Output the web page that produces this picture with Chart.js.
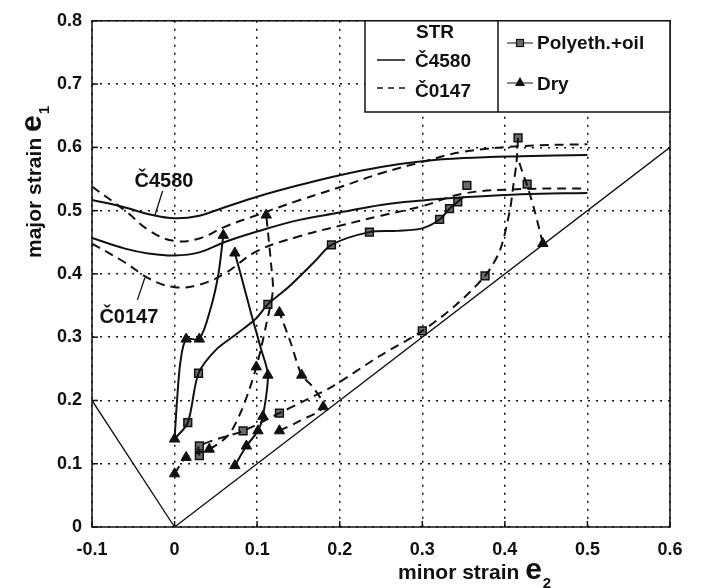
<!DOCTYPE html>
<html>
<head>
<meta charset="utf-8">
<script src="https://cdn.jsdelivr.net/npm/chart.js@4.4.0/dist/chart.umd.min.js"></script>
<style>
  html, body { margin: 0; padding: 0; background: #fff; }
  #chart { display: block; }
</style>
</head>
<body>
<canvas id="chart" width="701" height="588"></canvas>
<script>
// STR forming limit curves, minor strain e2 -> major strain e1
const limitX = [-0.1, -0.06, -0.03, 0, 0.03, 0.06, 0.1, 0.15, 0.2, 0.25, 0.3, 0.35, 0.42, 0.5];
const c4580UpperY = [0.517, 0.505, 0.494, 0.488, 0.492, 0.505, 0.522, 0.54, 0.556, 0.569, 0.578, 0.583, 0.586, 0.588];
const c4580LowerY = [0.457, 0.44, 0.432, 0.429, 0.434, 0.45, 0.467, 0.485, 0.497, 0.509, 0.516, 0.521, 0.526, 0.528];
const c0147UpperY = [0.538, 0.5, 0.468, 0.452, 0.456, 0.474, 0.493, 0.516, 0.537, 0.559, 0.577, 0.593, 0.602, 0.605];
const c0147LowerY = [0.448, 0.418, 0.392, 0.379, 0.383, 0.4, 0.436, 0.459, 0.476, 0.492, 0.507, 0.527, 0.534, 0.535];

// strain paths - Polyeth.+oil (squares)
const polyC4580X = [0, 0.016, 0.029, 0.05, 0.075, 0.099, 0.113, 0.137, 0.17, 0.19, 0.236, 0.27, 0.3, 0.321, 0.333, 0.343, 0.35];
const polyC4580Y = [0.139, 0.165, 0.243, 0.28, 0.305, 0.33, 0.352, 0.378, 0.42, 0.446, 0.466, 0.468, 0.472, 0.486, 0.503, 0.514, 0.522];
const polyC4580MarkX = [0.016, 0.029, 0.113, 0.19, 0.236, 0.321, 0.333, 0.343, 0.354];
const polyC4580MarkY = [0.165, 0.243, 0.352, 0.446, 0.466, 0.486, 0.503, 0.514, 0.54];

const polyC0147X = [0.03, 0.03, 0.083, 0.127, 0.155, 0.191, 0.248, 0.3, 0.34, 0.376, 0.394, 0.406, 0.41, 0.414, 0.416];
const polyC0147Y = [0.113, 0.128, 0.152, 0.18, 0.198, 0.222, 0.27, 0.31, 0.35, 0.397, 0.437, 0.5, 0.537, 0.575, 0.615];
const polyC0147MarkX = [0.03, 0.03, 0.083, 0.127, 0.3, 0.376, 0.416, 0.427];
const polyC0147MarkY = [0.113, 0.128, 0.152, 0.18, 0.31, 0.397, 0.615, 0.542];

// strain paths - Dry (triangles)
const dryC4580aX = [0, 0.003, 0.007, 0.014, 0.03, 0.044, 0.053, 0.059];
const dryC4580aY = [0.139, 0.2, 0.26, 0.297, 0.297, 0.347, 0.399, 0.461];
const dryC4580aMarkX = [0, 0.014, 0.03, 0.059];
const dryC4580aMarkY = [0.139, 0.297, 0.297, 0.461];

const dryC4580bX = [0.073, 0.087, 0.101, 0.107, 0.113, 0.105, 0.093, 0.082, 0.073];
const dryC4580bY = [0.097, 0.128, 0.152, 0.175, 0.24, 0.28, 0.336, 0.39, 0.433];
const dryC4580bMarkX = [0.073, 0.087, 0.101, 0.107, 0.113, 0.073];
const dryC4580bMarkY = [0.097, 0.128, 0.152, 0.175, 0.24, 0.433];

const dryC0147aX = [0, 0.014, 0.042, 0.065, 0.079, 0.091, 0.099, 0.105, 0.111, 0.119, 0.117, 0.111];
const dryC0147aY = [0.084, 0.11, 0.123, 0.145, 0.178, 0.219, 0.253, 0.284, 0.32, 0.373, 0.414, 0.493];
const dryC0147aMarkX = [0, 0.014, 0.042, 0.099, 0.111];
const dryC0147aMarkY = [0.084, 0.11, 0.123, 0.253, 0.493];

const dryC0147bX = [0.127, 0.152, 0.18, 0.167, 0.154, 0.141, 0.127];
const dryC0147bY = [0.152, 0.168, 0.19, 0.222, 0.24, 0.29, 0.339];
const dryC0147bMarkX = [0.127, 0.18, 0.154, 0.127];
const dryC0147bMarkY = [0.152, 0.19, 0.24, 0.339];

const dryC0147cX = [0.446, 0.436, 0.427, 0.421, 0.417];
const dryC0147cY = [0.448, 0.5, 0.54, 0.562, 0.578];
const dryC0147cMarkX = [0.446];
const dryC0147cMarkY = [0.448];

// reference lines e1 = -2*e2 and e1 = e2
const refX = [-0.1, 0, 0.6];
const refY = [0.2, 0, 0.6];

const xTicks = [-0.1, 0, 0.1, 0.2, 0.3, 0.4, 0.5, 0.6];
const yTicks = [0, 0.1, 0.2, 0.3, 0.4, 0.5, 0.6, 0.7, 0.8];

const ink = "#111";
const font = '"Liberation Sans", Arial, sans-serif';

const pts = (xs, ys) => xs.map((x, i) => ({ x: x, y: ys[i] }));

function curve(xs, ys, dashed, tension, width) {
  return {
    data: pts(xs, ys),
    showLine: true,
    borderColor: ink,
    borderWidth: width || 2,
    borderDash: dashed ? [9, 6] : [],
    pointRadius: 0,
    tension: tension,
    fill: false,
  };
}

function marks(xs, ys, style) {
  const tri = style === "triangle";
  return {
    data: pts(xs, ys),
    showLine: false,
    pointStyle: style,
    pointRadius: tri ? 6 : 5.5,
    backgroundColor: tri ? ink : "#6b6b6b",
    borderColor: ink,
    borderWidth: tri ? 1 : 1.5,
  };
}

// frame, inward ticks, labels, legend box, axis titles
const decor = {
  id: "decor",
  beforeDatasetsDraw(chart) {
    const { ctx, chartArea: a, scales } = chart;
    ctx.save();
    ctx.strokeStyle = ink;
    ctx.lineWidth = 1.5;
    ctx.strokeRect(a.left, a.top, a.right - a.left, a.bottom - a.top);
    xTicks.forEach((v) => {
      const px = scales.x.getPixelForValue(v);
      ctx.beginPath();
      ctx.moveTo(px, a.bottom);
      ctx.lineTo(px, a.bottom - 6);
      ctx.stroke();
    });
    yTicks.forEach((v) => {
      const py = scales.y.getPixelForValue(v);
      ctx.beginPath();
      ctx.moveTo(a.left, py);
      ctx.lineTo(a.left + 6, py);
      ctx.stroke();
    });
    ctx.restore();
  },
  afterDraw(chart) {
    const { ctx, chartArea: a, scales } = chart;
    const px = (v) => scales.x.getPixelForValue(v);
    const py = (v) => scales.y.getPixelForValue(v);
    ctx.save();
    ctx.fillStyle = ink;
    ctx.strokeStyle = ink;

    // curve labels with leader lines
    ctx.font = "bold 20px " + font;
    ctx.textAlign = "left";
    ctx.textBaseline = "alphabetic";
    ctx.fillText("Č4580", px(-0.0485), py(0.5375));
    ctx.fillText("Č0147", px(-0.091), py(0.323));
    ctx.lineWidth = 1.3;
    ctx.beginPath();
    ctx.moveTo(px(-0.0145), py(0.531));
    ctx.lineTo(px(-0.024), py(0.492));
    ctx.moveTo(px(-0.036), py(0.394));
    ctx.lineTo(px(-0.045), py(0.359));
    ctx.stroke();

    // legend box
    const L = 365, T = a.top, R = a.right, B = 112, D = 498;
    ctx.fillStyle = "#fff";
    ctx.fillRect(L, T, R - L, B - T);
    ctx.fillStyle = ink;
    ctx.lineWidth = 1.5;
    ctx.strokeRect(L, T, R - L, B - T);
    ctx.beginPath();
    ctx.moveTo(D, T);
    ctx.lineTo(D, B);
    ctx.stroke();

    ctx.font = "bold 19px " + font;
    ctx.fillText("STR", 416, 38);
    ctx.fillText("Č4580", 415, 67);
    ctx.fillText("Č0147", 415, 97);
    ctx.fillText("Polyeth.+oil", 537, 49);
    ctx.fillText("Dry", 537, 90);

    ctx.lineWidth = 1.5;
    ctx.beginPath();
    ctx.moveTo(377, 60);
    ctx.lineTo(405, 60);
    ctx.stroke();
    ctx.setLineDash([6, 5]);
    ctx.beginPath();
    ctx.moveTo(377, 88);
    ctx.lineTo(410, 88);
    ctx.stroke();
    ctx.setLineDash([]);

    ctx.lineWidth = 1.2;
    ctx.beginPath();
    ctx.moveTo(507, 43);
    ctx.lineTo(533, 43);
    ctx.moveTo(507, 83);
    ctx.lineTo(533, 83);
    ctx.stroke();
    ctx.fillStyle = "#6b6b6b";
    ctx.fillRect(516.5, 39.5, 7, 7);
    ctx.strokeRect(516.5, 39.5, 7, 7);
    ctx.fillStyle = ink;
    ctx.beginPath();
    ctx.moveTo(520, 77);
    ctx.lineTo(525, 86);
    ctx.lineTo(515, 86);
    ctx.closePath();
    ctx.fill();

    // axis titles
    ctx.font = "bold 21px " + font;
    const xt = "minor strain ";
    ctx.fillText(xt, 398, 579);
    let w = ctx.measureText(xt).width;
    ctx.font = "bold 30px " + font;
    ctx.fillText("e", 398 + w, 579);
    w += ctx.measureText("e").width;
    ctx.font = "bold 15px " + font;
    ctx.fillText("2", 399 + w, 588);

    ctx.translate(41, 258);
    ctx.rotate(-Math.PI / 2);
    ctx.font = "bold 21px " + font;
    const yt = "major strain ";
    ctx.fillText(yt, 0, 0);
    w = ctx.measureText(yt).width;
    ctx.font = "bold 30px " + font;
    ctx.fillText("e", w, 0);
    w += ctx.measureText("e").width;
    ctx.font = "bold 15px " + font;
    ctx.fillText("1", w + 1, 8);
    ctx.restore();
  },
};

new Chart(document.getElementById("chart"), {
  type: "scatter",
  data: {
    datasets: [
      curve(refX, refY, false, 0, 1.3),
      curve(limitX, c4580UpperY, false, 0.4),
      curve(limitX, c4580LowerY, false, 0.4),
      curve(limitX, c0147UpperY, true, 0.4),
      curve(limitX, c0147LowerY, true, 0.4),
      curve(polyC4580X, polyC4580Y, false, 0.3),
      curve(polyC0147X, polyC0147Y, true, 0.3),
      curve(dryC4580aX, dryC4580aY, false, 0.3),
      curve(dryC4580bX, dryC4580bY, false, 0.3),
      curve(dryC0147aX, dryC0147aY, true, 0.3),
      curve(dryC0147bX, dryC0147bY, true, 0.3),
      curve(dryC0147cX, dryC0147cY, true, 0.3),
      marks(polyC4580MarkX, polyC4580MarkY, "rect"),
      marks(polyC0147MarkX, polyC0147MarkY, "rect"),
      marks(dryC4580aMarkX, dryC4580aMarkY, "triangle"),
      marks(dryC4580bMarkX, dryC4580bMarkY, "triangle"),
      marks(dryC0147aMarkX, dryC0147aMarkY, "triangle"),
      marks(dryC0147bMarkX, dryC0147bMarkY, "triangle"),
      marks(dryC0147cMarkX, dryC0147cMarkY, "triangle"),
    ],
  },
  options: {
    responsive: false,
    animation: false,
    events: [],
    layout: { padding: { left: 0, right: 31, top: 15, bottom: 0 } },
    plugins: {
      legend: { display: false },
      tooltip: { enabled: false },
    },
    scales: {
      x: {
        type: "linear",
        min: -0.1,
        max: 0.6,
        afterFit: (s) => { s.height = 61; },
        afterBuildTicks: (s) => { s.ticks = xTicks.map((v) => ({ value: v })); },
        ticks: {
          color: ink,
          padding: 12,
          maxRotation: 0,
          font: { family: font, size: 18, weight: "bold" },
          callback: (v) => String(Math.round(v * 10) / 10),
        },
        grid: { color: ink, lineWidth: 1.5, drawTicks: false },
        border: { display: false, dash: [2, 6] },
      },
      y: {
        type: "linear",
        min: 0,
        max: 0.8,
        afterFit: (s) => { s.width = 92; },
        afterBuildTicks: (s) => { s.ticks = yTicks.map((v) => ({ value: v })); },
        ticks: {
          color: ink,
          padding: 10,
          font: { family: font, size: 18, weight: "bold" },
          callback: (v) => String(Math.round(v * 10) / 10),
        },
        grid: { color: ink, lineWidth: 1.5, drawTicks: false },
        border: { display: false, dash: [2, 6] },
      },
    },
  },
  plugins: [decor],
});
</script>
</body>
</html>
